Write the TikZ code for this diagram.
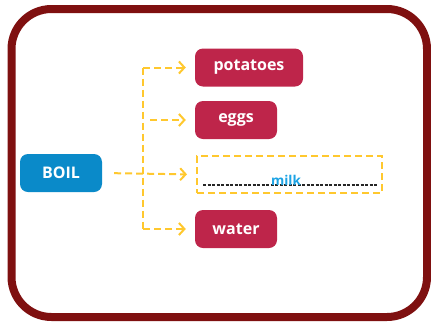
\documentclass[tikz,border=0pt]{standalone}
\usepackage{fontspec}
\setmainfont{Open Sans}
\usepackage{xcolor}
\usetikzlibrary{arrows.meta}

\definecolor{framered}{HTML}{7F1010}
\definecolor{boilblue}{HTML}{0A8AC9}
\definecolor{itemred}{HTML}{BE254A}
\definecolor{linkyellow}{HTML}{FFC82E}
\definecolor{milkblue}{HTML}{1CA3E4}

\tikzset{
  box/.style={rounded corners=8pt,inner sep=0pt,text=white,font=\fontsize{16}{18}\selectfont\bfseries},
  boilbox/.style={box,fill=boilblue,minimum width=82pt,minimum height=38pt},
  itembox/.style={box,fill=itemred,minimum height=38pt},
  milkbox/.style={draw=linkyellow,line width=2pt,dash pattern=on 7pt off 4pt,minimum width=185pt,minimum height=37pt,inner sep=0pt},
  link/.style={draw=linkyellow,line width=2pt,dash pattern=on 7pt off 4pt},
  linkarrow/.style={link,-{Straight Barb[length=5.5pt,width=12pt,line width=2pt]}}
}

\begin{document}
\begin{tikzpicture}[x=1pt,y=-1pt]
\useasboundingbox (0,0) rectangle (431,322);
% outer frame
\draw[framered,line width=8pt,rounded corners=40pt] (11.5,9) rectangle (427,317);
% nodes
\node[boilbox] (boil) at (61,173) {BOIL};
\node[itembox,minimum width=108pt] (potatoes) at (249,67.5) {potatoes};
\node[itembox,minimum width=82pt] (eggs) at (236,120) {eggs};
\node[milkbox] (milk) at (289.5,174.5) {};
\node[itembox,minimum width=82pt] (water) at (236,229) {water};
% the blank for milk
\draw[black!85,line width=1.3pt,dash pattern=on 3pt off 1.5pt] ([xshift=7pt,yshift=9pt]milk.south west) coordinate (blankstart) -- ([xshift=-5pt,yshift=9pt]milk.south east) coordinate (blankend);
\node[text=milkblue,font=\fontsize{13.5}{15}\selectfont\bfseries,inner sep=0pt] (milklabel) at (286,180) {milk};
% connectors
\coordinate (split) at (143,174);
\draw[link] (potatoes.west -| split) -- (water.west -| split);
\draw[linkarrow,shorten <=12pt,shorten >=9pt] (boil.east) -- (milk.west);
\draw[linkarrow,shorten >=9pt] (potatoes.west -| split) -- (potatoes.west);
\draw[linkarrow,shorten <=7pt,shorten >=9pt] (eggs.west -| split) -- (eggs.west);
\draw[linkarrow,shorten >=9pt] (water.west -| split) -- (water.west);
\end{tikzpicture}
\end{document}
